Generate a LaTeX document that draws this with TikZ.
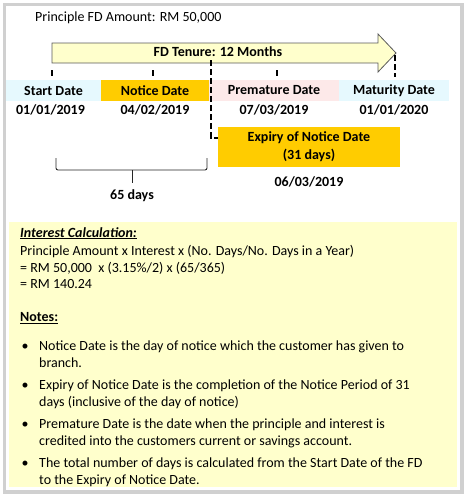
\documentclass[tikz,border=0pt]{standalone}
\usepackage{fontspec}
\setmainfont{Carlito}
\usepackage{xcolor}
\usepackage{tikz}
\usetikzlibrary{
  positioning,
  arrows.meta,
  calc
}
\definecolor{paleyellow}{RGB}{255,255,204}
\definecolor{goldbox}{RGB}{255,204,0}
\definecolor{palecyan}{RGB}{230,249,254}
\definecolor{palepink}{RGB}{253,233,233}
\definecolor{framegray}{RGB}{208,208,208}
\definecolor{arrowedge}{RGB}{90,90,90}
\newcommand{\fdsize}{\fontsize{14pt}{16.5pt}\selectfont}
\tikzset{
  >=Latex,
  plaintext/.style={inner sep=0pt,font=\fdsize},
  boldtext/.style={inner sep=0pt,font=\fdsize\bfseries},
  datebox/.style={rectangle,minimum height=21pt,inner sep=0pt,font=\fdsize\bfseries,align=center},
  tickline/.style={line width=1.6pt,dash pattern=on 6pt off 3pt},
  tenurearrow/.style={fill=paleyellow,draw=arrowedge,line width=0.8pt},
  bracket/.style={draw=black!85,line width=0.9pt,rounded corners=2pt},
  bulletdot/.style={inner sep=0pt,font=\fdsize}
}

\begin{document}
\begin{tikzpicture}[x=1pt,y=-1pt]
    \useasboundingbox (0,0) rectangle (467,496);
    \draw[framegray,line width=3.5pt] (4.5,4.5) rectangle (462,492);

    \node[plaintext,anchor=west] (amount) at (35,18) {Principle FD Amount: RM 50,000};

    % tenure arrow
    \draw[tenurearrow] (52,43) -- (378,43) -- (378,34) -- (396,53) -- (378,72) -- (378,63) -- (52,63) -- cycle;
    \node[boldtext] (tenure) at (218,52) {FD Tenure: 12 Months};

    % date row
    \node[datebox,fill=palecyan,minimum width=95pt] (startbox) at (53.5,90.5) {Start Date};
    \node[datebox,fill=goldbox,minimum width=108pt] (noticebox) at (155,90.5) {Notice Date};
    \node[datebox,fill=palepink,minimum width=130pt] (prembox) at (274,90.5) {Premature Date};
    \node[datebox,fill=palecyan,minimum width=110pt] (maturbox) at (394,90.5) {Maturity Date};

    \node[boldtext,below=3pt of startbox,xshift=-3pt] (startdate) {01/01/2019};
    \node[boldtext,below=3pt of noticebox] (noticedate) {04/02/2019};
    \node[boldtext,below=3pt of prembox] (premdate) {07/03/2019};
    \node[boldtext,below=3pt of maturbox] (maturdate) {01/01/2020};

    % ticks
    \coordinate (tstart) at (52,70);
    \coordinate (tnotice) at (153,70);
    \coordinate (tprem) at (277,70);
    \coordinate (tmatur) at (395,55);
    \draw[tickline] (tstart) -- (tstart |- 0,77);
    \draw[tickline] (tnotice) -- (tnotice |- 0,77);
    \draw[tickline] (tprem) -- (tprem |- 0,77);
    \draw[tickline] (tmatur) -- (tmatur |- 0,77);

    % expiry of notice
    \node[datebox,fill=goldbox,minimum width=182pt,minimum height=40pt] (expirybox) at (309,147) {Expiry of Notice Date\\[1.5pt](31 days)};
    \node[boldtext,below=9pt of expirybox] (expirydate) {06/03/2019};
    \coordinate (splittop) at (211,60);
    \draw[tickline] (splittop) |- ([yshift=-11pt]expirybox.north west);

    % brace
    \coordinate (bracetip) at (132,183);
    \draw[bracket] (56,158) |- (207,170) -- (207,158);
    \draw[bracket] (bracetip |- 0,170) -- (bracetip);
    \node[boldtext,below=6pt of bracetip] (days) {65 days};

    % notes
    \fill[paleyellow] (9,222) rectangle (457,487);
    \node[plaintext,anchor=north west,align=left] (calc) at (20,227)
      {\underline{\textbf{\textit{Interest Calculation:}}}\\[1.5pt]
       Principle Amount x Interest x (No. Days/No. Days in a Year)\\[0.8pt]
       = RM 50,000\ \ x (3.15\%/2) x (65/365)\\
       = RM 140.24};
    \node[plaintext,anchor=west] (notes) at (20,318) {\underline{\textbf{Notes:}}};

    \node[bulletdot] (dot1) at (25,347) {\textbullet};
    \node[bulletdot] (dot2) at (25,386) {\textbullet};
    \node[bulletdot] (dot3) at (25,425) {\textbullet};
    \node[bulletdot] (dot4) at (25,464) {\textbullet};
    \node[plaintext,anchor=north west,align=left] (note1) at (39,341)
      {Notice Date is the day of notice which the customer has given to\\branch.};
    \node[plaintext,anchor=north west,align=left] (note2) at (39,380)
      {Expiry of Notice Date is the completion of the Notice Period of 31\\days (inclusive of the day of notice)};
    \node[plaintext,anchor=north west,align=left] (note3) at (39,419)
      {Premature Date is the date when the principle and interest is\\credited into the customers current or savings account.};
    \node[plaintext,anchor=north west,align=left] (note4) at (39,458)
      {The total number of days is calculated from the Start Date of the FD\\to the Expiry of Notice Date.};
\end{tikzpicture}
\end{document}
